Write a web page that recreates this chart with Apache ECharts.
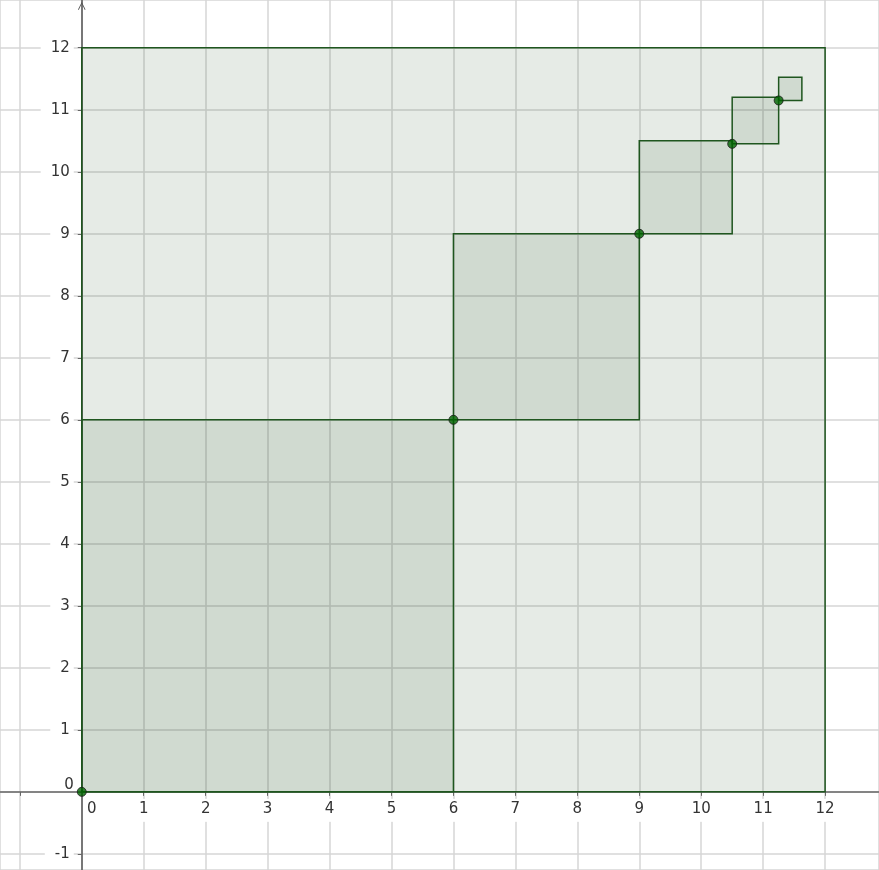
<!DOCTYPE html>
<html lang="en">
<head>
    <meta charset="UTF-8">
    <title>squares</title>
    <script src="https://cdn.jsdelivr.net/npm/echarts@6/dist/echarts.min.js"></script>
    <style>
        html, body { margin: 0; padding: 0; background: #fff; }
    </style>
</head>
<body>
    <div id="main" style="width: 879px;height:870px;"></div>
    <script type="text/javascript">
        // squares: lower-left corner and side length
        var squareX = [0, 0, 6, 9, 10.5, 11.25];
        var squareY = [0, 0, 6, 9, 10.45, 11.15];
        var squareSide = [12, 6, 3, 1.5, 0.75, 0.375];

        // marked points
        var pointX = [0, 6, 9, 10.5, 11.25];
        var pointY = [0, 6, 9, 10.45, 11.15];

        // visible window
        var xRange = [-1.32, 12.87];
        var yRange = [-1.26, 12.77];

        var squareData = squareX.map(function (x, i) {
            return [x, squareY[i], squareSide[i]];
        });
        var pointData = pointX.map(function (x, i) {
            return [x, pointY[i]];
        });

        var W = 879, H = 870;
        // put the axes through the origin
        var xAxisOffset = -(0 - yRange[0]) / (yRange[1] - yRange[0]) * H;
        var yAxisOffset = -(0 - xRange[0]) / (xRange[1] - xRange[0]) * W;

        var txt = { fontFamily: 'DejaVu Sans', fontSize: 15, color: '#333' };

        var myChart = echarts.init(document.getElementById('main'));

        var option = {
            animation: false,
            grid: { left: 0, right: 0, top: 0, bottom: 0, containLabel: false, outerBoundsMode: 'none' },
            xAxis: {
                type: 'value',
                position: 'bottom',
                offset: xAxisOffset,
                min: xRange[0],
                max: xRange[1],
                minInterval: 1,
                maxInterval: 1,
                axisLine: {
                    onZero: false,
                    lineStyle: { color: '#666', width: 1.5 }
                },
                axisTick: { show: true, length: 4, lineStyle: { color: '#666' } },
                axisLabel: Object.assign({}, txt, {
                    showMinLabel: false,
                    showMaxLabel: false,
                    margin: 7,
                    formatter: function (v) {
                        if (v < 0) return '';
                        if (v === 0) return '{z|0}';
                        return '{n|' + v + '}';
                    },
                    rich: {
                        n: Object.assign({}, txt, { backgroundColor: '#fff', padding: [3, 3, 5, 3] }),
                        z: Object.assign({}, txt, { padding: [3, 0, 5, 20] })
                    }
                }),
                splitLine: { show: true, lineStyle: { color: '#d6d6d6', width: 1.5 } }
            },
            yAxis: {
                type: 'value',
                position: 'left',
                offset: yAxisOffset,
                min: yRange[0],
                max: yRange[1],
                minInterval: 1,
                maxInterval: 1,
                axisLine: {
                    onZero: false,
                    symbol: ['none', 'path://M0,10 L5,0 L10,10 L9,10.6 L5,2.4 L1,10.6 Z'],
                    symbolSize: [12, 8],
                    symbolOffset: [0, -6],
                    lineStyle: { color: '#555', width: 1.5 }
                },
                axisTick: { show: true, length: 4, lineStyle: { color: '#666' } },
                axisLabel: Object.assign({}, txt, {
                    showMinLabel: false,
                    showMaxLabel: false,
                    margin: 8,
                    formatter: function (v) {
                        if (v === 0) return '{z|0}';
                        return '{n|' + v + '}';
                    },
                    rich: {
                        n: Object.assign({}, txt, { backgroundColor: '#fff', padding: [3, 4, 3, 10] }),
                        z: Object.assign({}, txt, { padding: [0, 0, 14, 0] })
                    }
                }),
                splitLine: { show: true, lineStyle: { color: '#d6d6d6', width: 1.5 } }
            },
            series: [
                {
                    type: 'custom',
                    data: squareData,
                    encode: { x: 0, y: 1 },
                    z: 3,
                    renderItem: function (params, api) {
                        var x0 = api.value(0), y0 = api.value(1), s = api.value(2);
                        var p0 = api.coord([x0, y0]);
                        var p1 = api.coord([x0 + s, y0 + s]);
                        return {
                            type: 'polygon',
                            shape: {
                                points: [
                                    [p0[0], p0[1]], [p1[0], p0[1]],
                                    [p1[0], p1[1]], [p0[0], p1[1]]
                                ]
                            },
                            style: {
                                fill: 'rgba(30, 70, 30, 0.11)',
                                stroke: '#1f561f',
                                lineWidth: 1.5
                            }
                        };
                    }
                },
                {
                    type: 'scatter',
                    data: pointData,
                    z: 5,
                    symbolSize: 9,
                    itemStyle: {
                        color: '#006400',
                        borderColor: '#1a1a1a',
                        borderWidth: 1
                    }
                }
            ]
        };

        myChart.setOption(option);
    </script>
</body>
</html>
